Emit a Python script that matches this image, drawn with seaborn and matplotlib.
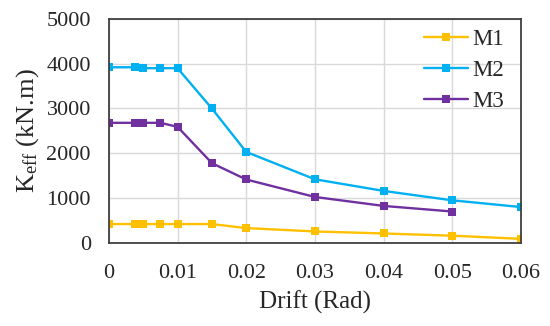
import pandas as pd
import matplotlib.pyplot as plt
import seaborn as sns

drift = [0, 0.00375, 0.005, 0.0075, 0.01, 0.015, 0.02, 0.03, 0.04, 0.05, 0.06]
m1 = [420, 420, 420, 420, 420, 420, 330, 255, 210, 160, 90]
m2 = [3920, 3920, 3900, 3900, 3900, 3000, 2030, 1420, 1160, 950, 800]
m3 = [2680, 2680, 2680, 2680, 2590, 1780, 1415, 1025, 825, 700]
series = {'M1': m1, 'M2': m2, 'M3': m3}
colors = {'M1': '#FFC000', 'M2': '#00B0F0', 'M3': '#7030A0'}

rows = []
for name, vals in series.items():
    for x, y in zip(drift, vals):
        rows.append({'Drift': x, 'K': y, 'Model': name})
df = pd.DataFrame(rows)

sns.set_style('white')
plt.rcParams['font.family'] = ['Liberation Serif', 'DejaVu Serif']
plt.rcParams['mathtext.fontset'] = 'custom'
plt.rcParams['mathtext.rm'] = 'Liberation Serif'
plt.rcParams['mathtext.it'] = 'Liberation Serif'

fig = plt.figure(figsize=(5.5, 3.26), dpi=100)
ax = fig.add_axes([0.198, 0.255, 0.749, 0.687])

for name in series:
    sns.lineplot(data=df[df['Model'] == name], x='Drift', y='K', color=colors[name],
                 marker='s', markersize=5.5, markeredgewidth=0, linewidth=1.7,
                 label=name, ax=ax)

ax.set_xlim(0, 0.06)
ax.set_ylim(0, 5000)
ax.set_xticks([0, 0.01, 0.02, 0.03, 0.04, 0.05, 0.06])
ax.set_xticklabels(['0', '0.01', '0.02', '0.03', '0.04', '0.05', '0.06'])
ax.set_yticks(range(0, 5001, 1000))
ax.grid(True, color='#d9d9d9', linewidth=1)
ax.tick_params(length=0, labelsize=16)
ax.tick_params(axis='x', pad=15)
ax.tick_params(axis='y', pad=13)
for s in ax.spines.values():
    s.set_color('#404040')
    s.set_linewidth(1.3)
ax.set_xlabel('Drift (Rad)', fontsize=18, labelpad=6)
ax.set_ylabel(r'K$_{\mathrm{eff}}$ (kN.m)', fontsize=19, labelpad=4)

ax.legend(loc='upper right', bbox_to_anchor=(0.985, 1.0), frameon=False,
          fontsize=16.5, handlelength=1.9, handletextpad=0.2,
          labelspacing=0.42, borderaxespad=0.05)

plt.savefig('out.png', dpi=100)
plt.close()
